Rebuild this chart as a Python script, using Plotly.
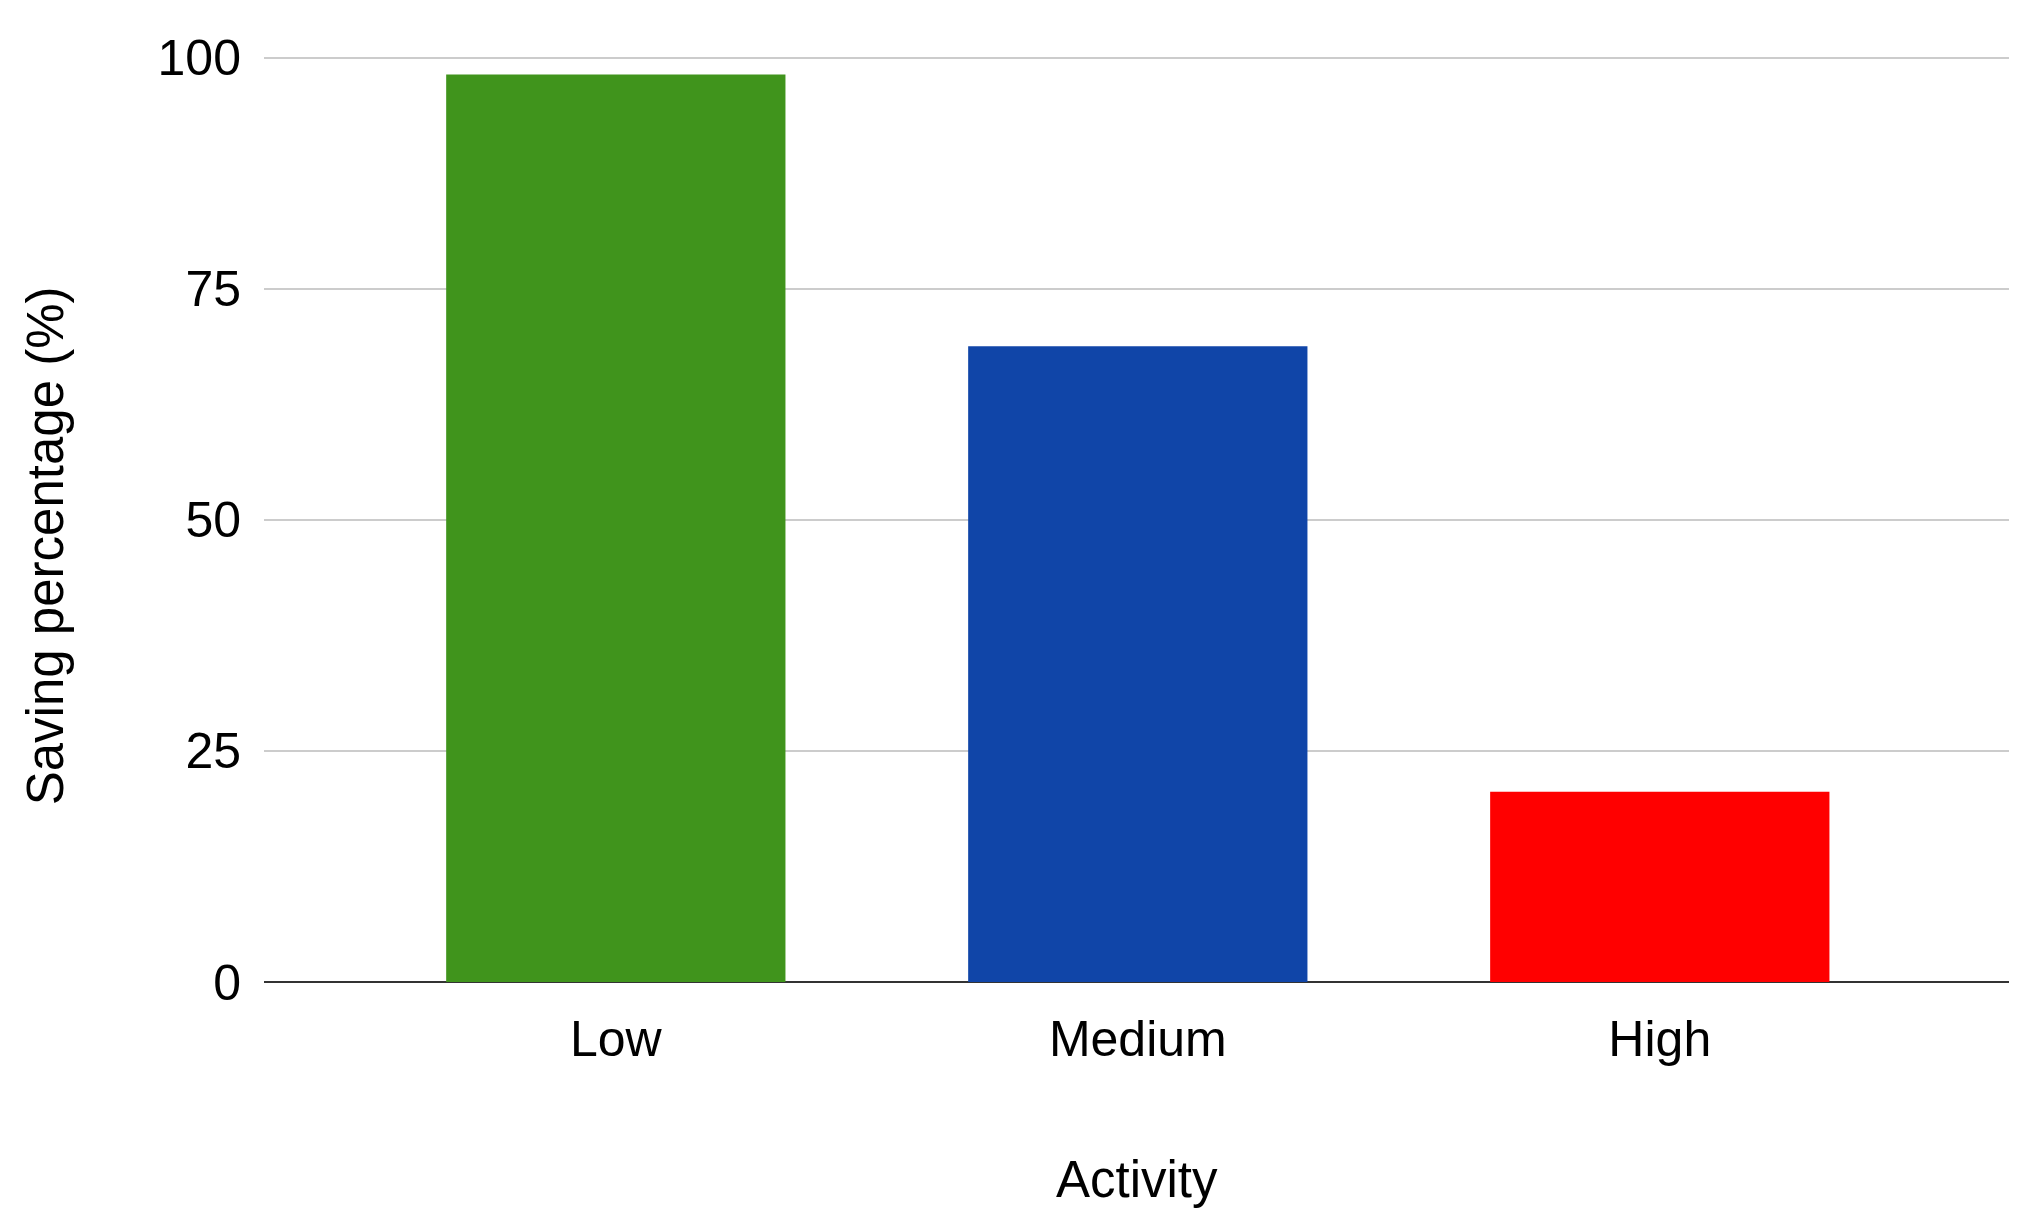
import plotly.graph_objects as go

categories = ["Low", "Medium", "High"]
values = [98.2, 68.8, 20.6]
colors = ["#40941c", "#1045a8", "#ff0000"]
y_ticks = [0, 25, 50, 75, 100]

FONT = "Liberation Sans, Arial, sans-serif"

# page body has an 8px default margin, so the figure is sized to fit inside the window
W, H = 2026, 1210

fig = go.Figure()
fig.add_trace(go.Bar(
    x=categories,
    y=values,
    marker=dict(color=colors, line=dict(width=0)),
    width=0.65,
    showlegend=False,
))

fig.update_layout(
    width=W,
    height=H,
    paper_bgcolor="white",
    plot_bgcolor="white",
    margin=dict(l=256, r=25, t=49, b=236),
    font=dict(family=FONT, size=50, color="#000000"),
    xaxis=dict(
        type="category",
        range=[-0.674, 2.669],
        showgrid=False,
        showline=False,
        ticks="",
        tickfont=dict(size=50),
        ticklabelstandoff=23,
    ),
    yaxis=dict(
        range=[0, 100.1],
        tickvals=y_ticks,
        showgrid=True,
        gridcolor="#cccccc",
        gridwidth=2,
        zeroline=True,
        zerolinecolor="#333333",
        zerolinewidth=2,
        showline=False,
        ticks="",
        tickfont=dict(size=50),
        ticklabelstandoff=22,
    ),
    shapes=[
        dict(type="line", xref="paper", x0=0, x1=1, yref="y",
             y0=y_ticks[-1], y1=y_ticks[-1],
             line=dict(color="#cccccc", width=2), layer="below"),
    ],
    annotations=[
        dict(text="Activity", xref="paper", yref="paper", x=0.5, y=-0.213,
             showarrow=False, font=dict(size=51), xanchor="center", yanchor="middle"),
        dict(text="Saving percentage (%)", xref="paper", yref="paper", x=-0.125, y=0.472,
             showarrow=False, textangle=-90, font=dict(size=51),
             xanchor="center", yanchor="middle"),
    ],
)

fig.write_html("out.html")
